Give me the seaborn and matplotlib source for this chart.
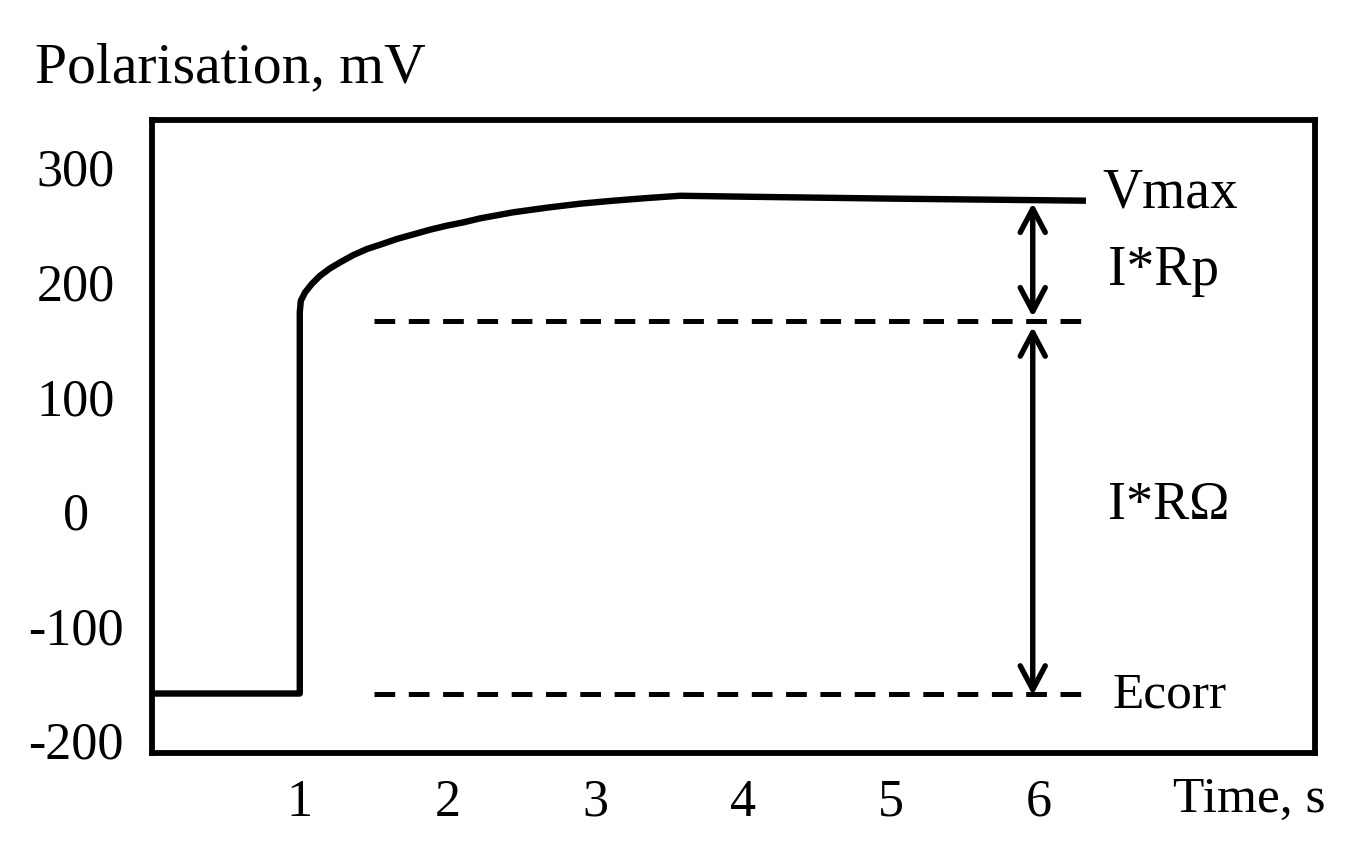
import matplotlib
matplotlib.use("Agg")
import matplotlib.pyplot as plt
import seaborn as sns
import pandas as pd

# ---- data ----
time_s = [0.0, 1.0, 1.0, 1.007, 1.036, 1.081, 1.137, 1.205, 1.273, 1.363,
          1.454, 1.544, 1.657, 1.769, 1.882, 1.995, 2.108, 2.221, 2.446,
          2.672, 2.898, 3.123, 3.349, 3.575, 4.0, 5.0, 6.32]
polarisation_mv = [-160, -160, 172.6, 182.7, 190, 197.3, 204.5, 211, 216.2,
                   222.6, 227.8, 231.6, 236.6, 240.6, 244.7, 248.2, 251.1,
                   254.6, 259.9, 263.9, 267.4, 270, 272.3, 274.3, 273.5,
                   271.8, 270]

ecorr_mv = -160          # corrosion potential level
ir_ohm_level_mv = 165    # level after ohmic jump
vmax_mv = 268            # arrow top
dash_time = [1.5, 6.29]
arrow_time = 5.96

ytick_values = [300, 200, 100, 0, -100, -200]
ytick_labels = ["300", "200", "100", "0", "-100", "-200"]
xtick_values = [1, 2, 3, 4, 5, 6]
xtick_labels = ["1", "2", "3", "4", "5", "6"]

# ---- style ----
sns.set_theme(style="white")
plt.rcParams["font.family"] = ["Liberation Serif", "DejaVu Serif"]

W, H = 1363, 862
fig = plt.figure(figsize=(W / 100, H / 100), dpi=100)
ax = fig.add_axes([152 / W, 1 - 754 / H, (1315 - 152) / W, (754 - 121) / H])

df = pd.DataFrame({"t": time_s, "v": polarisation_mv})
sns.lineplot(data=df, x="t", y="v", ax=ax, estimator=None, sort=False,
             color="black", linewidth=4.6, solid_joinstyle="round",
             solid_capstyle="butt")

dash_style = (0, (4.14, 2.72))
for level in (ir_ohm_level_mv, ecorr_mv):
    sns.lineplot(x=dash_time, y=[level, level], ax=ax, estimator=None,
                 color="black", linewidth=3.6, linestyle=dash_style,
                 dash_capstyle="butt")

arrow_kw = dict(arrowstyle="<->,head_length=0.85,head_width=0.45",
                color="black", lw=3.9, shrinkA=0, shrinkB=0,
                mutation_scale=20)
ax.annotate("", xy=(arrow_time, ir_ohm_level_mv + 3.5),
            xytext=(arrow_time, vmax_mv), arrowprops=arrow_kw)
ax.annotate("", xy=(arrow_time, ecorr_mv - 1.5),
            xytext=(arrow_time, ir_ohm_level_mv - 5), arrowprops=arrow_kw)

ax.set_xlim(0, 7.87)
ax.set_ylim(-211.9, 340.4)

ax.set_xticks(xtick_values)
ax.set_xticklabels(xtick_labels)
ax.set_yticks(ytick_values)
ax.set_yticklabels(ytick_labels, ha="center")
ax.tick_params(axis="both", length=0, labelsize=37.5, colors="black")
ax.tick_params(axis="x", pad=18)
ax.tick_params(axis="y", pad=55)
ax.set_xlabel("")
ax.set_ylabel("")
ax.grid(False)

for sp in ax.spines.values():
    sp.set_visible(True)
    sp.set_color("black")
    sp.set_linewidth(4.2)

txt = dict(color="black", va="baseline", ha="left")
ax.text(6.43, 265.3, "Vmax", fontsize=40, **txt)
ax.text(6.47, 197.3, "I*Rp", fontsize=40, **txt)
ax.text(6.47, -6.9, "I*RΩ", fontsize=39, **txt)
ax.text(6.50, -171, "Ecorr", fontsize=37, **txt)

fig.text(35 / W, 1 - 82 / H, "Polarisation, mV", fontsize=41.5, **txt)
fig.text(1173 / W, 1 - 812 / H, "Time, s", fontsize=37, **txt)

fig.savefig("out.png", dpi=100, facecolor="white")
